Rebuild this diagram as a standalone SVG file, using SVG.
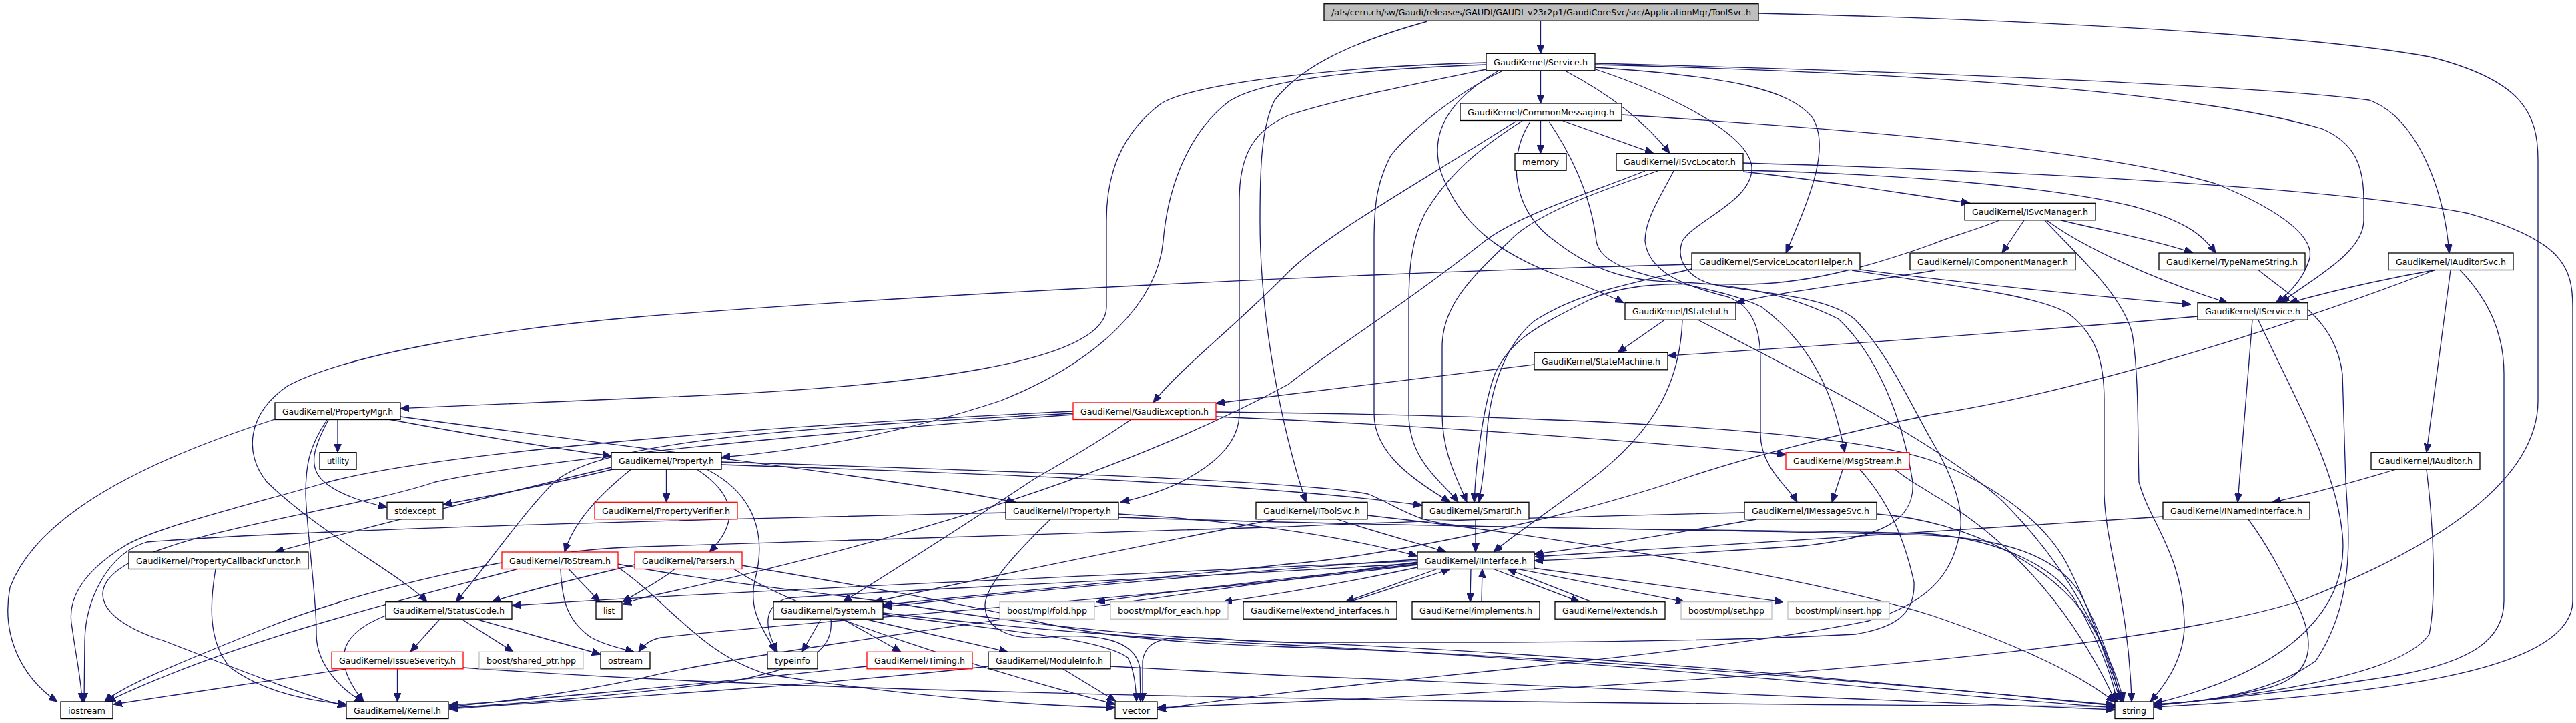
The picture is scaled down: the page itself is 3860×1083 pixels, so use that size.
<svg xmlns="http://www.w3.org/2000/svg" width="3860" height="1083" viewBox="0 0 3860 1083">
<defs>
<style>
.n rect{fill:#ffffff;stroke:#000000;stroke-width:1.3}
.n.red rect{stroke:#ff0000}
.n.gray rect{stroke:#bfbfbf}
.n.root rect{fill:#bfbfbf}
.n text{font-family:"DejaVu Sans","Liberation Sans",sans-serif;font-size:13px;fill:#000000;text-anchor:middle}
#edges path{fill:none;stroke:#191970;stroke-width:1.3;marker-end:url(#ah)}
</style>
<marker id="ah" markerUnits="userSpaceOnUse" viewBox="0 0 13 11" markerWidth="13" markerHeight="11" refX="13" refY="5.5" orient="auto"><path d="M0,0 L13,5.5 L0,11 z" fill="#191970" stroke="#191970" stroke-width="1"/></marker>
</defs>
<rect x="0" y="0" width="3860" height="1083" fill="#ffffff"/>
<g id="edges">
<path d="M2308.5,31.5 L2308.5,80.3"/>
<path d="M2308.5,106 L2308.5,155"/>
<path d="M2308.5,180.5 L2308.5,229.7"/>
<path d="M2342,181 L2478,229.7"/>
<path d="M2345,106 C2400,135 2460,175 2502,229.7"/>
<path d="M2139,32 C2020,65 1950,100 1910,150 C1890,190 1888,250 1888,330 C1888,480 1920,640 1957,752.3"/>
<path d="M2635,20 C3000,28 3450,50 3640,85 C3780,120 3803,170 3803,240 L3803,600 C3803,700 3700,800 3450,899 C3200,980 2500,1030 1734,1060"/>
<path d="M2390,101 C2600,115 2680,135 2715,175 C2745,220 2710,300 2676,379"/>
<path d="M2390,95 C2900,108 3400,130 3550,150 C3620,175 3662,280 3670,379"/>
<path d="M2390,97 C2900,110 3300,140 3480,193 C3530,215 3542,250 3542,300 L3542,330 C3542,380 3460,420 3418,453.7"/>
<path d="M2430,172 C2800,195 3150,225 3320,275 C3430,320 3470,360 3460,390 C3450,420 3430,440 3410,453.7"/>
<path d="M2612,244 C3000,255 3500,280 3700,320 C3840,360 3855,400 3855,460 L3855,900 C3855,1000 3600,1040 3227,1059"/>
<path d="M2612,255 C2900,262 3100,285 3200,310 C3270,330 3300,350 3320,379"/>
<path d="M2612,257 C2750,272 2850,290 2952,304.3"/>
<path d="M2484,256 C2400,285 2300,320 2262,361 C2200,420 2161,460 2161,520 L2161,620 C2161,680 2185,720 2198,752.3"/>
<path d="M2465,256 C2380,290 2280,320 2225,361 C2100,460 2000,520 1930,576 C1700,700 1400,800 965,895 L933,905"/>
<path d="M2250,107 C2180,140 2110,200 2084,233 C2065,270 2059,300 2059,361 L2059,620 C2059,680 2120,720 2173,752.3"/>
<path d="M2281,181 C2220,220 2170,260 2135,320 C2115,360 2111,400 2111,460 L2111,620 C2111,690 2160,720 2185,752.3"/>
<path d="M2244,107 C2170,150 2140,200 2160,260 C2190,340 2250,380 2330,411 C2380,430 2410,442 2433,453.7"/>
<path d="M2271,182 C2100,290 1990,350 1930,408 C1850,490 1770,550 1728,603"/>
<path d="M2293,182 C2255,240 2270,320 2330,361 C2380,400 2430,420 2500,422 C2600,425 2680,440 2755,478 C2810,530 2850,620 2866,722 C2870,780 2820,805 2700,818 C2550,828 2400,836 2299,840"/>
<path d="M2508,256 C2485,300 2465,330 2465,361 C2470,410 2530,430 2590,445 C2630,460 2638,500 2638,540 L2638,650 C2638,700 2680,730 2693,752.3"/>
<path d="M2321,182 C2360,240 2385,300 2392,361 C2400,420 2560,420 2640,460 C2720,520 2750,600 2764,677.7"/>
<path d="M2391,104 C2500,140 2620,200 2625,250 C2628,300 2540,330 2521,361 C2510,390 2530,420 2576,428 C2650,440 2740,445 2779,478 C2830,530 2860,600 2895,661 C2930,720 2940,760 2938,789 C2930,850 2900,900 2800,930 C2500,990 2000,1020 1734,1063"/>
<path d="M2227,94 C2050,98 1800,120 1740,155 C1680,200 1658,260 1658,330 L1658,460 C1658,540 1400,580 965,596 L600,611.7"/>
<path d="M2227,97 C2000,105 1880,125 1840,153 C1780,200 1750,280 1743,361 C1735,450 1650,540 1500,600 C1350,650 1200,675 1081,685"/>
<path d="M2227,104 C2100,130 2000,150 1930,173 C1880,195 1857,230 1857,300 L1857,620 C1857,680 1780,730 1679,752.3"/>
<path d="M3033,330 L3000,379"/>
<path d="M3089,330 C3150,345 3230,360 3286,379"/>
<path d="M3067,330 C3120,370 3230,420 3338,453.7"/>
<path d="M3064,330 C3110,380 3180,440 3195,500 C3205,560 3203,650 3205,722 C3220,780 3270,830 3273,930 C3275,980 3250,1020 3222,1051"/>
<path d="M2996,330 C2960,345 2920,355 2895,366 C2800,400 2700,428 2600,426 C2500,424 2435,424 2380,450 C2300,490 2262,511 2240,560 C2225,600 2212,680 2209,752.3"/>
<path d="M2535,403 C2420,430 2361,441 2300,480 C2250,520 2232,594 2228,650 C2225,700 2220,730 2216,752.3"/>
<path d="M2787,404 C2950,425 3150,445 3283,456"/>
<path d="M2775,405 C2900,425 3050,440 3100,470 C3140,500 3153,540 3153,600 L3153,740 C3155,820 3190,900 3194,1051"/>
<path d="M2535,396 C2000,410 1400,440 965,474 C750,492 520,530 431,578 C370,620 365,680 400,722 C480,800 600,860 640,901.7"/>
<path d="M2900,405 C2780,425 2680,435 2601,453.7"/>
<path d="M3649,404.5 C3560,420 3480,440 3430,453.7"/>
<path d="M3672,404.5 L3636,677.7"/>
<path d="M3686,404.5 C3730,450 3752,500 3752,560 L3752,900 C3752,960 3700,990 3600,1010 C3450,1035 3300,1050 3227,1056"/>
<path d="M3649,404.5 C3400,500 3100,590 2895,621 C2750,650 2600,690 2508,722 C2300,790 2050,835 1930,845 C1700,870 1450,895 1323,906"/>
<path d="M3384,404.5 C3440,450 3500,480 3510,560 L3515,722 C3520,800 3530,900 3470,990 C3400,1040 3300,1052 3227,1055"/>
<path d="M2494,479.5 L2424,528.3"/>
<path d="M2521,479.5 C2518,560 2490,640 2379,722 C2330,760 2270,800 2238,827"/>
<path d="M2545,479.5 C2700,560 2900,660 3000,750 C3100,850 3150,950 3180,1051"/>
<path d="M3293,474 C3000,500 2700,520 2499,533"/>
<path d="M3375,479.5 L3353,752.3"/>
<path d="M3384,479.5 C3440,600 3500,700 3510,800 C3520,900 3450,1000 3227,1054"/>
<path d="M2299,546 C2100,570 1900,595 1822,604"/>
<path d="M1822,624 C2200,640 2500,665 2676,681"/>
<path d="M1822,617 C2300,622 2750,640 2895,690 C3000,730 3070,790 3100,850 C3140,930 3160,1000 3178,1051"/>
<path d="M1694,629 C1620,680 1560,710 1543,722 C1440,790 1330,860 1263,901.7"/>
<path d="M1608,616 C1100,640 650,680 492,722 C380,755 230,790 185,819 C120,860 100,900 108,940 C115,990 122,1020 123,1051"/>
<path d="M1608,619 C1200,640 900,660 831,722 C790,760 720,860 683,901.7"/>
<path d="M1608,621 C1200,650 800,690 652,722 C540,760 300,790 200,840 C120,880 150,930 246,960 C350,1000 450,1040 519,1058"/>
<path d="M1676,770 C1850,780 2000,800 2124,833"/>
<path d="M1676,775 C2100,790 2700,795 2895,802 C3000,808 3080,830 3117,889 C3150,950 3170,1010 3178,1051"/>
<path d="M1574,778 C1510,840 1478,880 1476,905 C1475,940 1510,958 1560,955 C1640,948 1700,955 1708,1000 L1709,1051"/>
<path d="M1507,768 C1200,775 500,790 220,812 C160,830 128,900 127,960 L126,1051"/>
<path d="M2004,778 C2070,800 2130,815 2167,827"/>
<path d="M1910,778 C1700,820 1450,870 1310,901.7"/>
<path d="M2049,772 C2300,800 2700,860 2895,922 C3050,975 3130,1020 3169,1052"/>
<path d="M2211,778 L2211,827"/>
<path d="M2632,778 C2500,800 2400,818 2299,830"/>
<path d="M2614,768 C2300,775 2000,785 1930,789 C1500,800 1100,815 965,819 C800,822 550,880 400,940 C250,1000 180,1030 157,1051"/>
<path d="M2812,770 C2950,780 3080,850 3130,930 C3160,980 3175,1020 3182,1051"/>
<path d="M3241,774 C3000,790 2600,815 2300,834"/>
<path d="M3369,778 C3400,820 3420,860 3440,900 C3470,960 3470,1010 3400,1030 C3330,1048 3270,1053 3227,1055"/>
<path d="M3589,703.5 C3500,730 3440,745 3405,752.3"/>
<path d="M3636,703.5 C3648,800 3650,900 3640,950 C3600,1010 3400,1040 3227,1057"/>
<path d="M2761,703.5 L2745,752.3"/>
<path d="M2787,703.5 C2820,740 2850,790 2868,872 C2870,920 2840,940 2780,950 C2500,965 2100,962 1930,962 C1800,960 1720,935 1712,990 L1712,1051"/>
<path d="M2840,703.5 C2860,720 2880,730 2895,740 C3000,800 3100,900 3170,1051"/>
<path d="M2152,853 L2016,901.7"/>
<path d="M2022,901.7 L2173,852.5"/>
<path d="M2204,852.5 L2203,901.7"/>
<path d="M2220,901.7 L2221,852.5"/>
<path d="M2238,852.5 L2367,901.7"/>
<path d="M2385,901.7 L2259,852.5"/>
<path d="M2275,852.5 L2524,901.7"/>
<path d="M2290,850 L2672,901.7"/>
<path d="M2124,845 C1950,865 1750,885 1643,901.7"/>
<path d="M2124,850 C2030,870 1930,888 1833,901.7"/>
<path d="M2124,838 C1800,860 1500,890 1323,909"/>
<path d="M2124,840 C1700,860 1100,885 767,907"/>
<path d="M2124,842 C1700,900 1100,980 965,1015 C850,1040 720,1055 673,1058"/>
<path d="M2124,846 C1700,900 1200,930 990,955 C975,958 965,965 957,976.3"/>
<path d="M2124,844 C1700,870 1400,880 1180,896 C1150,905 1140,930 1165,976.3"/>
<path d="M1230,927.5 L1202,976.3"/>
<path d="M1263,927.5 L1350,976.3"/>
<path d="M1297,927.5 L1510,976.3"/>
<path d="M1245,927.5 C1250,980 1200,1000 1100,1020 C900,1045 740,1057 673,1060"/>
<path d="M1323,918 C1600,950 1800,960 1930,966 C2400,990 2900,1040 3169,1060"/>
<path d="M1323,920 C1500,945 1650,955 1690,985 C1700,1005 1702,1030 1703,1051"/>
<path d="M1593,1002 L1672,1050"/>
<path d="M1664,998 C1800,1005 1900,1010 1930,1012 C2400,1030 2900,1050 3169,1063"/>
<path d="M1481,998 C1200,1030 800,1052 673,1062"/>
<path d="M1299,998 C1000,1030 750,1052 673,1056"/>
<path d="M659,927.5 L615,976.3"/>
<path d="M692,927.5 L769,976.3"/>
<path d="M714,927.5 L900,980"/>
<path d="M578,922 C520,945 488,980 545,1051"/>
<path d="M595.5,1002 L595.5,1051"/>
<path d="M519,1002 L170,1055"/>
<path d="M694,1000 C900,1015 1200,1028 1500,1036 C2000,1050 2700,1056 3169,1058"/>
<path d="M852,852.5 L899,901.7"/>
<path d="M840,852.5 C842,900 850,930 886,955 C910,968 935,972 950,976.3"/>
<path d="M775,852.5 C600,900 350,960 160,1051"/>
<path d="M926,845 C1050,870 1250,890 1350,905 C1500,930 1700,955 1930,962 C2400,980 2900,1030 3169,1057"/>
<path d="M926,850 C1000,900 1050,980 1150,1010 C1400,1050 1600,1058 1671,1060"/>
<path d="M1011,852.5 C990,870 960,885 933,901.7"/>
<path d="M951,846 C850,870 770,890 737,901.7"/>
<path d="M1100,852.5 C1200,920 1500,1010 1671,1055"/>
<path d="M1112,847 C1300,880 1450,905 1550,930 C1650,955 1800,965 1930,969 C2400,985 2900,1030 3169,1056"/>
<path d="M998.5,703.5 L998.5,752.3"/>
<path d="M916,700 C750,740 550,790 412,827"/>
<path d="M945,703.5 C900,740 860,780 846,827"/>
<path d="M918,703 C850,720 750,740 664,756"/>
<path d="M1045,703.5 C1100,740 1110,780 1063,827"/>
<path d="M1060,703.5 C1130,740 1150,800 1131,870 C1120,920 1150,950 1162,976.3"/>
<path d="M1081,696 C1500,710 1900,725 2131,757"/>
<path d="M1081,692 C1500,705 1950,720 2050,740 C2100,760 2120,785 2200,788 C2500,795 2800,795 2895,800 C3000,810 3080,850 3110,900 C3140,950 3165,1010 3172,1051"/>
<path d="M506,628.5 L506,677.7"/>
<path d="M585,628.5 C700,650 820,670 916,683"/>
<path d="M412,628 C250,680 60,760 15,880 C0,960 40,1020 86,1051"/>
<path d="M492,629 C470,670 460,700 486,722 C510,742 545,752 580,760"/>
<path d="M490,629 C462,670 458,700 458,740 C460,800 475,900 474,950 C474,1000 520,1040 545,1051"/>
<path d="M600,624 C900,665 1300,710 1522,752.3"/>
<path d="M323,852.5 C315,900 310,960 345,1000 C400,1040 470,1050 519,1055"/>
</g>
<g id="n_toolsvc" class="n root"><rect x="1984" y="5.7" width="651" height="25.5"/><text x="2309.5" y="23.2" textLength="629" lengthAdjust="spacingAndGlyphs">/afs/cern.ch/sw/Gaudi/releases/GAUDI/GAUDI_v23r2p1/GaudiCoreSvc/src/ApplicationMgr/ToolSvc.h</text></g>
<g id="n_service" class="n"><rect x="2227" y="80.3" width="163" height="25.5"/><text x="2308.5" y="97.8" textLength="141" lengthAdjust="spacingAndGlyphs">GaudiKernel/Service.h</text></g>
<g id="n_cm" class="n"><rect x="2188" y="155" width="242" height="25.5"/><text x="2309" y="172.5" textLength="220" lengthAdjust="spacingAndGlyphs">GaudiKernel/CommonMessaging.h</text></g>
<g id="n_memory" class="n"><rect x="2270" y="229.7" width="77" height="25.5"/><text x="2308.5" y="247.2" textLength="55" lengthAdjust="spacingAndGlyphs">memory</text></g>
<g id="n_isvclocator" class="n"><rect x="2422" y="229.7" width="190" height="25.5"/><text x="2517" y="247.2" textLength="168" lengthAdjust="spacingAndGlyphs">GaudiKernel/ISvcLocator.h</text></g>
<g id="n_isvcmanager" class="n"><rect x="2944" y="304.3" width="196" height="25.5"/><text x="3042" y="321.8" textLength="174" lengthAdjust="spacingAndGlyphs">GaudiKernel/ISvcManager.h</text></g>
<g id="n_servicelocatorhelper" class="n"><rect x="2535" y="379" width="252" height="25.5"/><text x="2661" y="396.5" textLength="230" lengthAdjust="spacingAndGlyphs">GaudiKernel/ServiceLocatorHelper.h</text></g>
<g id="n_icomponentmanager" class="n"><rect x="2862" y="379" width="248" height="25.5"/><text x="2986" y="396.5" textLength="226" lengthAdjust="spacingAndGlyphs">GaudiKernel/IComponentManager.h</text></g>
<g id="n_typenamestring" class="n"><rect x="3235" y="379" width="219" height="25.5"/><text x="3344.5" y="396.5" textLength="197" lengthAdjust="spacingAndGlyphs">GaudiKernel/TypeNameString.h</text></g>
<g id="n_iauditorsvc" class="n"><rect x="3579" y="379" width="187" height="25.5"/><text x="3672.5" y="396.5" textLength="165" lengthAdjust="spacingAndGlyphs">GaudiKernel/IAuditorSvc.h</text></g>
<g id="n_istateful" class="n"><rect x="2435" y="453.7" width="166" height="25.5"/><text x="2518" y="471.2" textLength="144" lengthAdjust="spacingAndGlyphs">GaudiKernel/IStateful.h</text></g>
<g id="n_iservice" class="n"><rect x="3293" y="453.7" width="165" height="25.5"/><text x="3375.5" y="471.2" textLength="143" lengthAdjust="spacingAndGlyphs">GaudiKernel/IService.h</text></g>
<g id="n_statemachine" class="n"><rect x="2299" y="528.3" width="200" height="25.5"/><text x="2399" y="545.8" textLength="178" lengthAdjust="spacingAndGlyphs">GaudiKernel/StateMachine.h</text></g>
<g id="n_propertymgr" class="n"><rect x="412" y="603" width="188" height="25.5"/><text x="506" y="620.5" textLength="166" lengthAdjust="spacingAndGlyphs">GaudiKernel/PropertyMgr.h</text></g>
<g id="n_gaudiexception" class="n red"><rect x="1608" y="603" width="214" height="25.5"/><text x="1715" y="620.5" textLength="192" lengthAdjust="spacingAndGlyphs">GaudiKernel/GaudiException.h</text></g>
<g id="n_utility" class="n"><rect x="479" y="677.7" width="55" height="25.5"/><text x="506.5" y="695.2" textLength="33" lengthAdjust="spacingAndGlyphs">utility</text></g>
<g id="n_property" class="n"><rect x="916" y="677.7" width="165" height="25.5"/><text x="998.5" y="695.2" textLength="143" lengthAdjust="spacingAndGlyphs">GaudiKernel/Property.h</text></g>
<g id="n_msgstream" class="n red"><rect x="2676" y="677.7" width="185" height="25.5"/><text x="2768.5" y="695.2" textLength="163" lengthAdjust="spacingAndGlyphs">GaudiKernel/MsgStream.h</text></g>
<g id="n_iauditor" class="n"><rect x="3553" y="677.7" width="163" height="25.5"/><text x="3634.5" y="695.2" textLength="141" lengthAdjust="spacingAndGlyphs">GaudiKernel/IAuditor.h</text></g>
<g id="n_stdexcept" class="n"><rect x="580" y="752.3" width="84" height="25.5"/><text x="622" y="769.8" textLength="62" lengthAdjust="spacingAndGlyphs">stdexcept</text></g>
<g id="n_propertyverifier" class="n red"><rect x="891" y="752.3" width="214" height="25.5"/><text x="998" y="769.8" textLength="192" lengthAdjust="spacingAndGlyphs">GaudiKernel/PropertyVerifier.h</text></g>
<g id="n_iproperty" class="n"><rect x="1507" y="752.3" width="169" height="25.5"/><text x="1591.5" y="769.8" textLength="147" lengthAdjust="spacingAndGlyphs">GaudiKernel/IProperty.h</text></g>
<g id="n_itoolsvc" class="n"><rect x="1882" y="752.3" width="167" height="25.5"/><text x="1965.5" y="769.8" textLength="145" lengthAdjust="spacingAndGlyphs">GaudiKernel/IToolSvc.h</text></g>
<g id="n_smartif" class="n"><rect x="2131" y="752.3" width="160" height="25.5"/><text x="2211" y="769.8" textLength="138" lengthAdjust="spacingAndGlyphs">GaudiKernel/SmartIF.h</text></g>
<g id="n_imessagesvc" class="n"><rect x="2614" y="752.3" width="198" height="25.5"/><text x="2713" y="769.8" textLength="176" lengthAdjust="spacingAndGlyphs">GaudiKernel/IMessageSvc.h</text></g>
<g id="n_inamedinterface" class="n"><rect x="3241" y="752.3" width="220" height="25.5"/><text x="3351" y="769.8" textLength="198" lengthAdjust="spacingAndGlyphs">GaudiKernel/INamedInterface.h</text></g>
<g id="n_propertycallbackfunctor" class="n"><rect x="193" y="827" width="269" height="25.5"/><text x="327.5" y="844.5" textLength="247" lengthAdjust="spacingAndGlyphs">GaudiKernel/PropertyCallbackFunctor.h</text></g>
<g id="n_tostream" class="n red"><rect x="752" y="827" width="174" height="25.5"/><text x="839" y="844.5" textLength="152" lengthAdjust="spacingAndGlyphs">GaudiKernel/ToStream.h</text></g>
<g id="n_parsers" class="n red"><rect x="951" y="827" width="161" height="25.5"/><text x="1031.5" y="844.5" textLength="139" lengthAdjust="spacingAndGlyphs">GaudiKernel/Parsers.h</text></g>
<g id="n_iinterface" class="n"><rect x="2124" y="827" width="175" height="25.5"/><text x="2211.5" y="844.5" textLength="153" lengthAdjust="spacingAndGlyphs">GaudiKernel/IInterface.h</text></g>
<g id="n_statuscode" class="n"><rect x="578" y="901.7" width="189" height="25.5"/><text x="672.5" y="919.2" textLength="167" lengthAdjust="spacingAndGlyphs">GaudiKernel/StatusCode.h</text></g>
<g id="n_list" class="n"><rect x="893" y="901.7" width="39" height="25.5"/><text x="912.5" y="919.2" textLength="17" lengthAdjust="spacingAndGlyphs">list</text></g>
<g id="n_system" class="n"><rect x="1159" y="901.7" width="164" height="25.5"/><text x="1241" y="919.2" textLength="142" lengthAdjust="spacingAndGlyphs">GaudiKernel/System.h</text></g>
<g id="n_fold" class="n gray"><rect x="1498" y="901.7" width="142" height="25.5"/><text x="1569" y="919.2" textLength="120" lengthAdjust="spacingAndGlyphs">boost/mpl/fold.hpp</text></g>
<g id="n_foreach" class="n gray"><rect x="1664" y="901.7" width="176" height="25.5"/><text x="1752" y="919.2" textLength="154" lengthAdjust="spacingAndGlyphs">boost/mpl/for_each.hpp</text></g>
<g id="n_extend_interfaces" class="n"><rect x="1863" y="901.7" width="230" height="25.5"/><text x="1978" y="919.2" textLength="208" lengthAdjust="spacingAndGlyphs">GaudiKernel/extend_interfaces.h</text></g>
<g id="n_implements" class="n"><rect x="2116" y="901.7" width="191" height="25.5"/><text x="2211.5" y="919.2" textLength="169" lengthAdjust="spacingAndGlyphs">GaudiKernel/implements.h</text></g>
<g id="n_extends" class="n"><rect x="2330" y="901.7" width="165" height="25.5"/><text x="2412.5" y="919.2" textLength="143" lengthAdjust="spacingAndGlyphs">GaudiKernel/extends.h</text></g>
<g id="n_set" class="n gray"><rect x="2519" y="901.7" width="136" height="25.5"/><text x="2587" y="919.2" textLength="114" lengthAdjust="spacingAndGlyphs">boost/mpl/set.hpp</text></g>
<g id="n_insert" class="n gray"><rect x="2679" y="901.7" width="152" height="25.5"/><text x="2755" y="919.2" textLength="130" lengthAdjust="spacingAndGlyphs">boost/mpl/insert.hpp</text></g>
<g id="n_issueseverity" class="n red"><rect x="497" y="976.3" width="197" height="25.5"/><text x="595.5" y="993.8" textLength="175" lengthAdjust="spacingAndGlyphs">GaudiKernel/IssueSeverity.h</text></g>
<g id="n_shared_ptr" class="n gray"><rect x="718" y="976.3" width="156" height="25.5"/><text x="796" y="993.8" textLength="134" lengthAdjust="spacingAndGlyphs">boost/shared_ptr.hpp</text></g>
<g id="n_ostream" class="n"><rect x="900" y="976.3" width="74" height="25.5"/><text x="937" y="993.8" textLength="52" lengthAdjust="spacingAndGlyphs">ostream</text></g>
<g id="n_typeinfo" class="n"><rect x="1150" y="976.3" width="75" height="25.5"/><text x="1187.5" y="993.8" textLength="53" lengthAdjust="spacingAndGlyphs">typeinfo</text></g>
<g id="n_timing" class="n red"><rect x="1299" y="976.3" width="158" height="25.5"/><text x="1378" y="993.8" textLength="136" lengthAdjust="spacingAndGlyphs">GaudiKernel/Timing.h</text></g>
<g id="n_moduleinfo" class="n"><rect x="1481" y="976.3" width="183" height="25.5"/><text x="1572.5" y="993.8" textLength="161" lengthAdjust="spacingAndGlyphs">GaudiKernel/ModuleInfo.h</text></g>
<g id="n_iostream" class="n"><rect x="91" y="1051" width="78" height="25.5"/><text x="130" y="1068.5" textLength="56" lengthAdjust="spacingAndGlyphs">iostream</text></g>
<g id="n_kernel" class="n"><rect x="519" y="1051" width="153" height="25.5"/><text x="595.5" y="1068.5" textLength="131" lengthAdjust="spacingAndGlyphs">GaudiKernel/Kernel.h</text></g>
<g id="n_vector" class="n"><rect x="1671" y="1051" width="63" height="25.5"/><text x="1702.5" y="1068.5" textLength="41" lengthAdjust="spacingAndGlyphs">vector</text></g>
<g id="n_string" class="n"><rect x="3169" y="1051" width="58" height="25.5"/><text x="3198" y="1068.5" textLength="36" lengthAdjust="spacingAndGlyphs">string</text></g>
</svg>
